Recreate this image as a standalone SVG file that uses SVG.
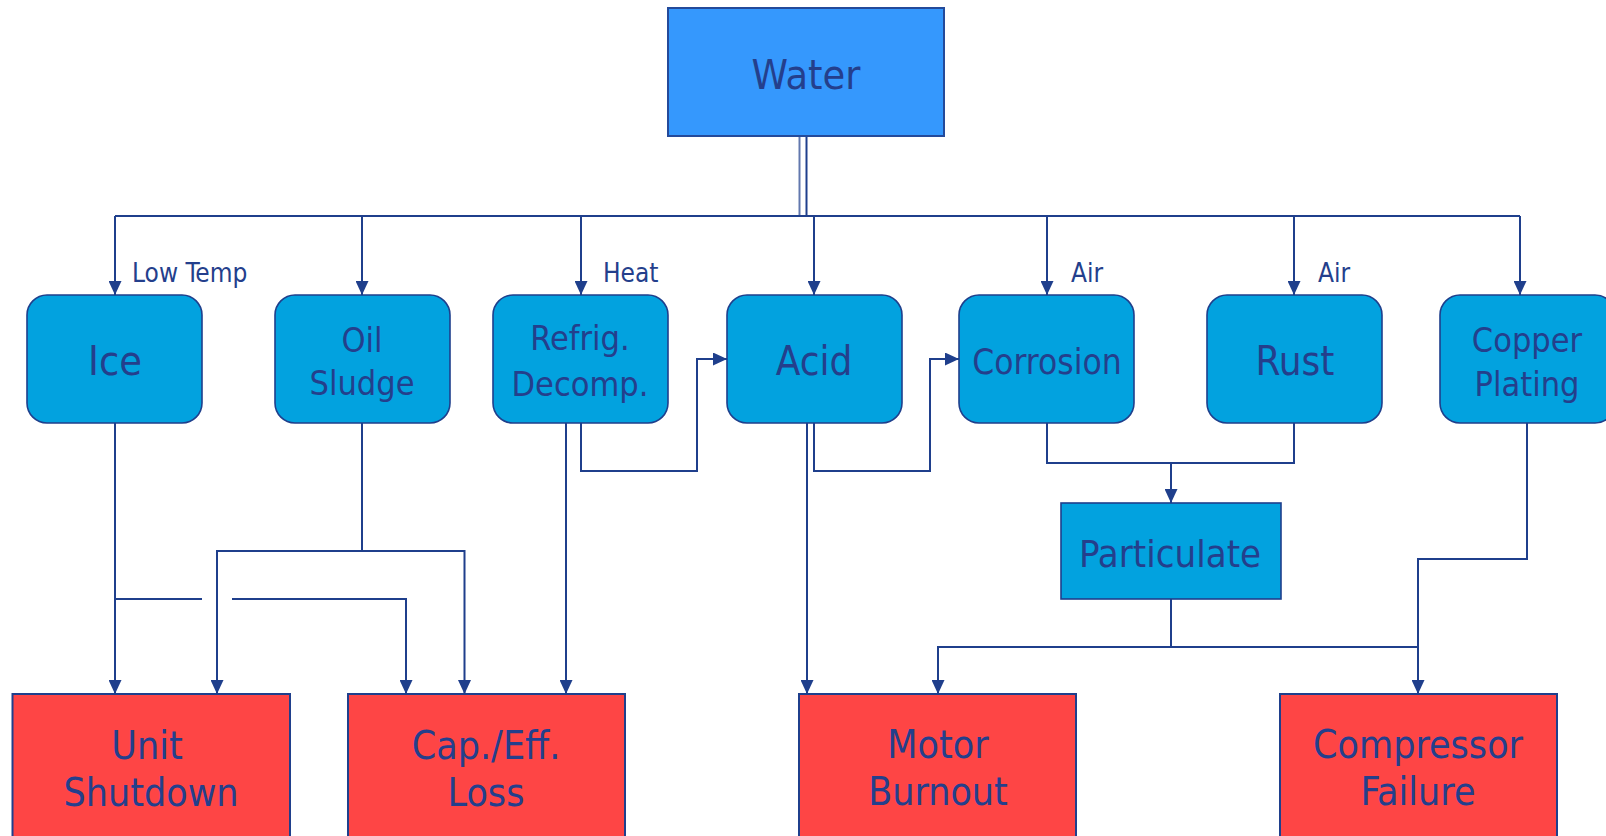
<svg xmlns="http://www.w3.org/2000/svg" width="1606" height="836" viewBox="0 0 1606 836">
<defs>
<marker id="arr" viewBox="0 0 14 13" refX="14" refY="6.5" markerWidth="14" markerHeight="13" markerUnits="userSpaceOnUse" orient="auto">
<path d="M0,0 L14,6.5 L0,13 z" fill="#1F3F8C"/>
</marker>
<style>
text{font-family:'DejaVu Sans Condensed','DejaVu Sans',sans-serif;font-stretch:condensed;fill:#243F8C;text-anchor:middle}
.lbl{font-size:26px;text-anchor:start}
.big{font-size:39px}
.mid{font-size:34px}
.top{fill:#3598FD;stroke:#244A9A;stroke-width:2}
.cause{fill:#02A2DF;stroke:#1F3F8C;stroke-width:1.6}
.eff{fill:#FE4545;stroke:#1F3F8C;stroke-width:2}
.ln{fill:none;stroke:#1F3F8C;stroke-width:2}
.ar{fill:none;stroke:#1F3F8C;stroke-width:2;marker-end:url(#arr)}
</style>
</defs>
<rect width="1606" height="836" fill="#FFFFFF"/>

<g id="connectors">
<path class="ln" d="M799.5,136 V216" stroke-opacity="0.7"/>
<path class="ln" d="M806.5,136 V216"/>
<path class="ln" d="M115,216 H1520"/>
<path class="ar" d="M115,216 V295"/>
<path class="ar" d="M362,216 V295"/>
<path class="ar" d="M581,216 V295"/>
<path class="ar" d="M814,216 V295"/>
<path class="ar" d="M1047,216 V295"/>
<path class="ar" d="M1294,216 V295"/>
<path class="ar" d="M1520,216 V295"/>

<path class="ar" d="M115,423 V694"/>
<path class="ln" d="M115,599 H202"/>
<path class="ar" d="M232,599 H406 V694"/>
<path class="ln" d="M362,423 V551"/>
<path class="ar" d="M362,551 H217 V694"/>
<path class="ar" d="M362,551 H464.5 V694"/>
<path class="ar" d="M566,423 V694"/>
<path class="ar" d="M581,423 V471 H697 V359 H727"/>
<path class="ar" d="M814,423 V471 H930 V359 H959"/>
<path class="ar" d="M807,423 V694"/>
<path class="ln" d="M1047,423 V463 H1294 V423"/>
<path class="ar" d="M1171,463 V503"/>
<path class="ln" d="M1171,599 V647"/>
<path class="ar" d="M1171,647 H938 V694"/>
<path class="ln" d="M1171,647 H1418"/>
<path class="ar" d="M1527,423 V559 H1418 V694"/>
</g>

<g id="label-lowtemp"><text class="lbl" x="132" y="282">Low Temp</text></g>
<g id="label-heat"><text class="lbl" x="603" y="282">Heat</text></g>
<g id="label-air1"><text class="lbl" x="1071" y="282">Air</text></g>
<g id="label-air2"><text class="lbl" x="1318" y="282">Air</text></g>

<g id="water"><rect class="top" x="668" y="8" width="276" height="128"/><text class="big" x="806" y="89" style="font-size:41px">Water</text></g>

<g id="ice"><rect class="cause" x="27" y="295" width="175" height="128" rx="20"/><text class="big" x="115" y="375" style="font-size:41px">Ice</text></g>
<g id="oil-sludge"><rect class="cause" x="275" y="295" width="175" height="128" rx="20"/><text class="mid" x="362" y="352">Oil</text><text class="mid" x="362" y="395">Sludge</text></g>
<g id="refrig-decomp"><rect class="cause" x="493" y="295" width="175" height="128" rx="20"/><text class="mid" x="580" y="350">Refrig.</text><text class="mid" x="580" y="396">Decomp.</text></g>
<g id="acid"><rect class="cause" x="727" y="295" width="175" height="128" rx="20"/><text class="big" x="814" y="375" style="font-size:40px">Acid</text></g>
<g id="corrosion"><rect class="cause" x="959" y="295" width="175" height="128" rx="20"/><text class="big" x="1047" y="374" style="font-size:35px">Corrosion</text></g>
<g id="rust"><rect class="cause" x="1207" y="295" width="175" height="128" rx="20"/><text class="big" x="1295" y="375" style="font-size:40px">Rust</text></g>
<g id="copper-plating"><rect class="cause" x="1440" y="295" width="175" height="128" rx="20"/><text class="mid" x="1527" y="352">Copper</text><text class="mid" x="1527" y="396">Plating</text></g>

<g id="particulate"><rect class="cause" x="1061" y="503" width="220" height="96"/><text class="big" x="1170" y="567" style="font-size:38px">Particulate</text></g>

<g id="unit-shutdown"><rect class="eff" x="12.5" y="694" width="277.5" height="150"/><text class="big" x="147" y="759">Unit</text><text class="big" x="151" y="806">Shutdown</text></g>
<g id="cap-eff-loss"><rect class="eff" x="348" y="694" width="277" height="150"/><text class="big" x="486" y="759">Cap./Eff.</text><text class="big" x="486" y="806">Loss</text></g>
<g id="motor-burnout"><rect class="eff" x="799" y="694" width="277" height="150"/><text class="big" x="938" y="758">Motor</text><text class="big" x="938" y="805">Burnout</text></g>
<g id="compressor-failure"><rect class="eff" x="1280" y="694" width="277" height="150"/><text class="big" x="1418" y="758">Compressor</text><text class="big" x="1418" y="805">Failure</text></g>
</svg>
